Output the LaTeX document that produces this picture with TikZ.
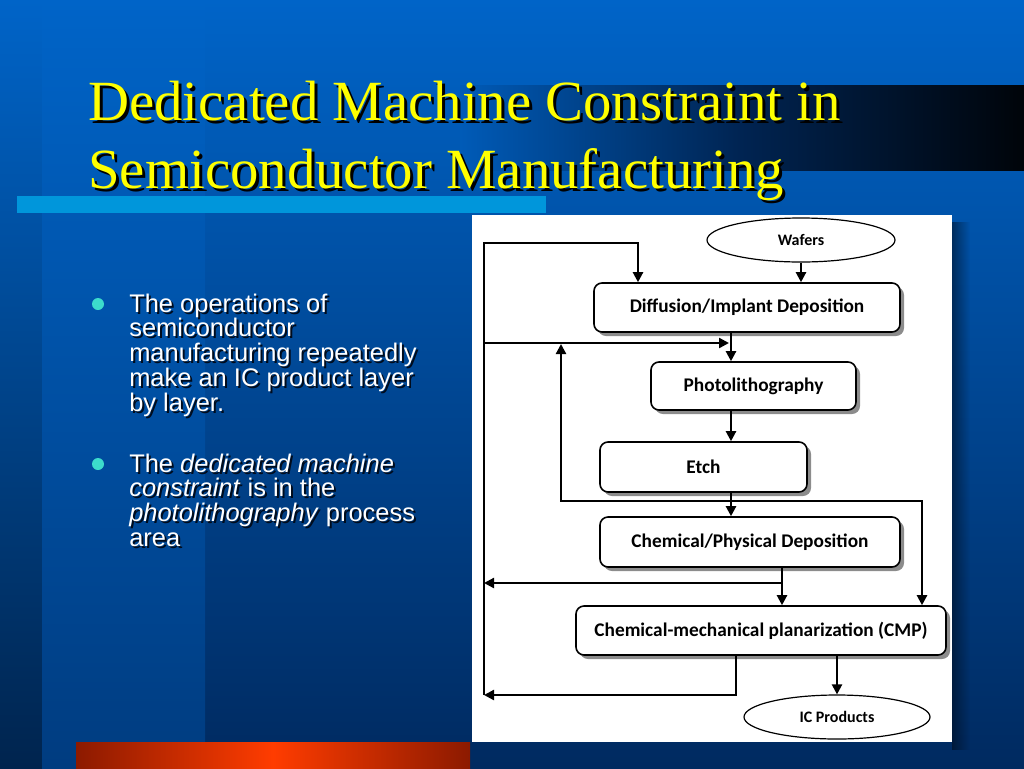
\documentclass[tikz,border=0pt]{standalone}
\usepackage{fontspec}
\setmainfont{Liberation Serif}
\newfontfamily\slidesans{Liberation Sans}
\newfontfamily\chartfont{Carlito}
\usetikzlibrary{arrows.meta,shadows,fadings,shapes.geometric}
\definecolor{slidetop}{HTML}{0064C8}
\definecolor{slidebot}{HTML}{002A60}
\definecolor{bandbot}{HTML}{003C80}
\definecolor{edgebot}{HTML}{00244E}
\definecolor{barblue}{HTML}{0096DB}
\definecolor{titleyellow}{HTML}{FFFF00}
\definecolor{dotcyan}{HTML}{3CDCCC}
\definecolor{fireorange}{HTML}{FF3C00}
\definecolor{firedark}{HTML}{8C1A00}
\setlength{\lineskiplimit}{-20pt}
\newcommand{\pointone}{The operations of\\ semiconductor\\ manufacturing repeatedly\\ make an IC product layer\\ by layer.}
\newcommand{\pointtwo}{The \textit{dedicated machine}\\ \textit{constraint} is in the\\ \textit{photolithography} process\\ area}
\begin{document}
\begin{tikzpicture}[x=0.75pt,y=-0.75pt,
    titletext/.style={anchor=base west,inner sep=0pt,align=left,
      font=\fontsize{42.6}{51}\selectfont},
    pointtext/.style={anchor=base west,inner sep=0pt,align=left,
      font=\slidesans\fontsize{19.1}{18.6}\selectfont},
    bulletdot/.style={circle,fill=dotcyan,inner sep=0pt,minimum size=9pt},
    procbox/.style={rectangle,rounded corners=6pt,draw,line width=1.2pt,fill=white,
      inner sep=0pt,font=\chartfont\bfseries\fontsize{14.5}{16}\selectfont,
      drop shadow={shadow xshift=3pt,shadow yshift=-3pt,fill=black,opacity=.45}},
    endpoint/.style={ellipse,draw,line width=0.9pt,fill=white,inner sep=0pt,
      font=\chartfont\bfseries\fontsize{12}{14}\selectfont},
    link/.style={line width=1.7pt,-{Triangle[length=7.5pt,width=7.5pt]}},
    twolink/.style={line width=1.7pt,{Triangle[length=7.5pt,width=7.5pt]}-{Triangle[length=7.5pt,width=7.5pt]}}]
  \useasboundingbox (0,0) rectangle (1024,768);
  %%% slide background
  \shade[top color=slidetop,bottom color=slidebot] (0,0) rectangle (1024,768);
  \shade[top color=slidetop,bottom color=edgebot] (0,0) rectangle (42,768);
  \shade[top color=slidetop,bottom color=bandbot] (42,0) rectangle (205,768);
  \shade[left color=slidetop!84!slidebot,right color=black!90!slidebot,middle color=slidebot!85!black]
    (460,85) rectangle (1024,170);
  \fill[barblue] (17,196) rectangle (546,213);
  \shade[left color=firedark,right color=firedark,middle color=fireorange]
    (76,742) rectangle (470,768);
  %%% title with its shadow (anchored on the last line)
  \node[titletext,text=black] (titleshadow) at (91,191)
    {Dedicated Machine Constraint in\\Semiconductor Manufacturing};
  \node[titletext,text=titleyellow] (title) at (88,188)
    {Dedicated Machine Constraint in\\Semiconductor Manufacturing};
  %%% the two points
  \node[bulletdot] (dotA) at (98,304) {};
  \node[bulletdot] (dotB) at (98,464) {};
  \node[pointtext,text=black!70!slidebot] (pointAshadow) at (131,413.2) {\pointone};
  \node[pointtext,text=white] (pointA) at (129,411.2) {\pointone};
  \node[pointtext,text=black!70!slidebot] (pointBshadow) at (131,548.4) {\pointtwo};
  \node[pointtext,text=white] (pointB) at (129,546.4) {\pointtwo};
  %%% the flow chart panel
  \fill[black!80!slidebot,opacity=.5,path fading=east] (952,222) rectangle (970,750);
  \fill[white] (472,215) rectangle (952,742);
  \node[endpoint,minimum width=141pt,minimum height=33pt] (wafers) at (801,240) {Wafers};
  \node[procbox,minimum width=229.5pt,minimum height=36.75pt] (diff) at (747,307.5)
    {Diffusion/Implant Deposition};
  \node[procbox,minimum width=153.75pt,minimum height=36pt] (photo) at (753.5,386)
    {Photolithography};
  \node[procbox,minimum width=155.25pt,minimum height=37.5pt] (etch) at (703.5,467)
    {Etch};
  \node[procbox,minimum width=225pt,minimum height=37.5pt] (cpd) at (750,542)
    {Chemical/Physical Deposition};
  \node[procbox,minimum width=277.5pt,minimum height=36.75pt] (cmp) at (761,630.5)
    {Chemical-mechanical planarization (CMP)};
  \node[endpoint,minimum width=139.5pt,minimum height=33pt] (icp) at (837,717) {IC Products};
  % turning points of the connectors
  \coordinate (busTop) at (484,243);
  \coordinate (feedTop) at (638,243);
  \coordinate (busPhoto) at (484,343);
  \coordinate (spine) at (731,343);
  \coordinate (loopUp) at (561,344);
  \coordinate (loopL) at (561,501);
  \coordinate (loopR) at (922,501);
  \coordinate (cpdOut) at (782,583);
  \coordinate (busCpd) at (484,583);
  \coordinate (cmpOut) at (736,695);
  \coordinate (busBot) at (484,695);
  % connectors
  \draw[link] (wafers.south) -- (wafers.south |- diff.north);
  \draw[link] (busBot) -- (busTop) -- (feedTop) -- (feedTop |- diff.north);
  \draw[link] (busPhoto) -- ([xshift=-1.5pt]spine);
  \draw[link] (diff.south -| spine) -- (photo.north -| spine);
  \draw[link] (photo.south -| spine) -- (etch.north -| spine);
  \draw[link] (etch.south -| spine) -- (cpd.north -| spine);
  \draw[twolink] (loopUp) -- (loopL) -- (loopR) -- (loopR |- cmp.north);
  \draw[link] (cpd.south -| cpdOut) -- (cpdOut |- cmp.north);
  \draw[link] (cpdOut) -- (busCpd);
  \draw[link] (cmp.south -| cmpOut) -- (cmpOut) -- (busBot);
  \draw[link] (cmp.south -| icp.north) -- (icp.north);
\end{tikzpicture}
\end{document}
